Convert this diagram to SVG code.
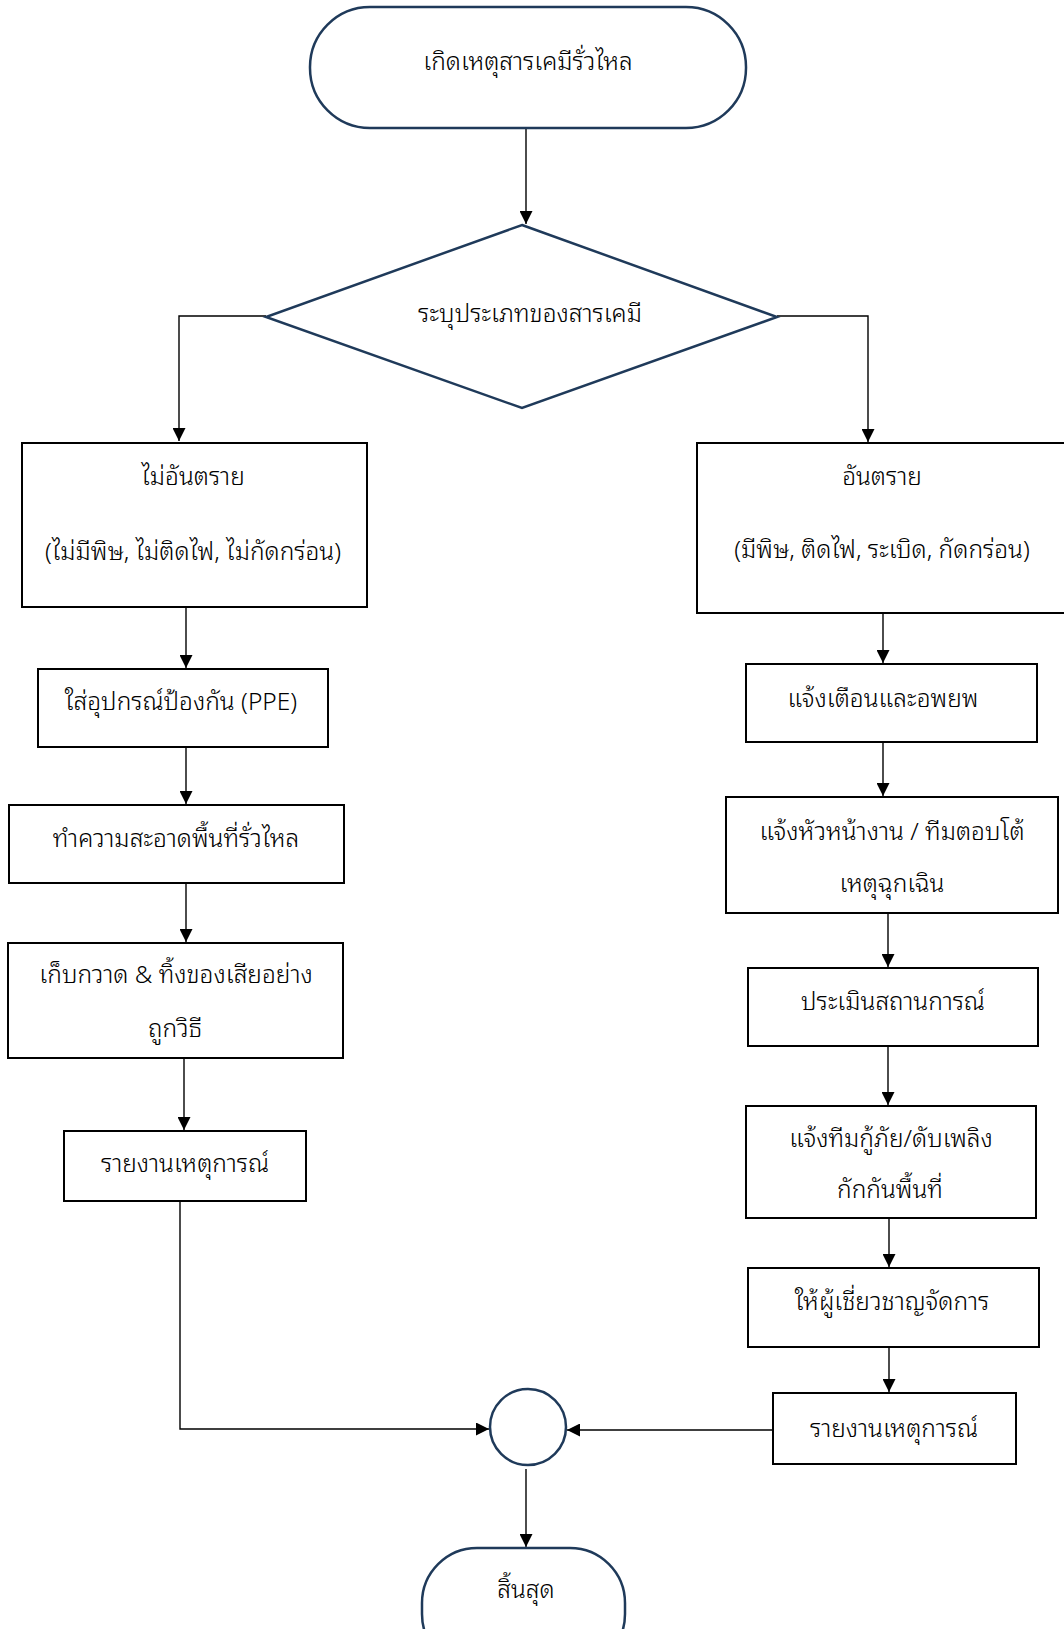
<svg xmlns="http://www.w3.org/2000/svg" width="1064" height="1629" viewBox="0 0 1064 1629">
<defs>
<marker id="arr" viewBox="0 0 10 10" refX="10" refY="5" markerWidth="15" markerHeight="13" markerUnits="userSpaceOnUse" orient="auto">
<path d="M0,0 L10,5 L0,10 z" fill="#000"/>
</marker>
<style>
.term{fill:#fff;stroke:#1f3a5a;stroke-width:2.5}
.box{fill:#fff;stroke:#000;stroke-width:2}
.con{fill:none;stroke:#000;stroke-width:1.4;marker-end:url(#arr)}
text{font-family:"Noto Sans Thai Looped","Loma","Garuda","Noto Sans Thai","Noto Sans",sans-serif;font-size:24.5px;font-weight:300;fill:#000;text-anchor:middle}
</style>
</defs>
<rect width="1064" height="1629" fill="#fff"/>
<g id="connectors">
<path class="con" d="M526,128 V224"/>
<path class="con" d="M266,316 H179 V441"/>
<path class="con" d="M777,316 H868 V442"/>
<path class="con" d="M186,607 V668"/>
<path class="con" d="M186,747 V804"/>
<path class="con" d="M186,883 V942"/>
<path class="con" d="M184,1058 V1130"/>
<path class="con" d="M180,1201 V1429 H489"/>
<path class="con" d="M883,613 V663"/>
<path class="con" d="M883,742 V796"/>
<path class="con" d="M888,913 V967"/>
<path class="con" d="M888,1046 V1105"/>
<path class="con" d="M889,1218 V1267"/>
<path class="con" d="M889,1347 V1392"/>
<path class="con" d="M773,1430 H567"/>
<path class="con" d="M526,1469 V1547"/>
</g>
<g id="start">
<rect class="term" x="310" y="7" width="436" height="121" rx="60" ry="60"/>
<text x="528" y="70">เกิดเหตุสารเคมีรั่วไหล</text>
</g>
<g id="decision">
<polygon class="term" points="522,225 777,317 522,408 266,317"/>
<text x="530" y="322">ระบุประเภทของสารเคมี</text>
</g>
<g id="nonhazard">
<rect class="box" x="22" y="443" width="345" height="164"/>
<text x="193" y="485">ไม่อันตราย</text>
<text x="193" y="560">(ไม่มีพิษ, ไม่ติดไฟ, ไม่กัดกร่อน)</text>
</g>
<g id="ppe">
<rect class="box" x="38" y="669" width="290" height="78"/>
<text x="181" y="710">ใส่อุปกรณ์ป้องกัน (PPE)</text>
</g>
<g id="clean">
<rect class="box" x="9" y="805" width="335" height="78"/>
<text x="176" y="847">ทำความสะอาดพื้นที่รั่วไหล</text>
</g>
<g id="dispose">
<rect class="box" x="8" y="943" width="335" height="115"/>
<text x="176" y="983">เก็บกวาด &amp; ทิ้งของเสียอย่าง</text>
<text x="175" y="1037">ถูกวิธี</text>
</g>
<g id="report-left">
<rect class="box" x="64" y="1131" width="242" height="70"/>
<text x="185" y="1172">รายงานเหตุการณ์</text>
</g>
<g id="hazard">
<rect class="box" x="697" y="443" width="375" height="170"/>
<text x="882" y="485">อันตราย</text>
<text x="882" y="558">(มีพิษ, ติดไฟ, ระเบิด, กัดกร่อน)</text>
</g>
<g id="warn">
<rect class="box" x="746" y="664" width="291" height="78"/>
<text x="883" y="707">แจ้งเตือนและอพยพ</text>
</g>
<g id="notify">
<rect class="box" x="726" y="797" width="332" height="116"/>
<text x="892" y="840">แจ้งหัวหน้างาน / ทีมตอบโต้</text>
<text x="892" y="892">เหตุฉุกเฉิน</text>
</g>
<g id="assess">
<rect class="box" x="748" y="968" width="290" height="78"/>
<text x="893" y="1010">ประเมินสถานการณ์</text>
</g>
<g id="rescue">
<rect class="box" x="746" y="1106" width="290" height="112"/>
<text x="891" y="1147">แจ้งทีมกู้ภัย/ดับเพลิง</text>
<text x="890" y="1198">กักกันพื้นที่</text>
</g>
<g id="expert">
<rect class="box" x="748" y="1268" width="291" height="79"/>
<text x="892" y="1310">ให้ผู้เชี่ยวชาญจัดการ</text>
</g>
<g id="report-right">
<rect class="box" x="773" y="1393" width="243" height="71"/>
<text x="894" y="1437">รายงานเหตุการณ์</text>
</g>
<g id="merge">
<ellipse class="term" cx="528" cy="1427" rx="38" ry="38"/>
</g>
<g id="end">
<rect class="term" x="422" y="1548" width="203" height="121" rx="55" ry="55"/>
<text x="526" y="1598">สิ้นสุด</text>
</g>
</svg>
